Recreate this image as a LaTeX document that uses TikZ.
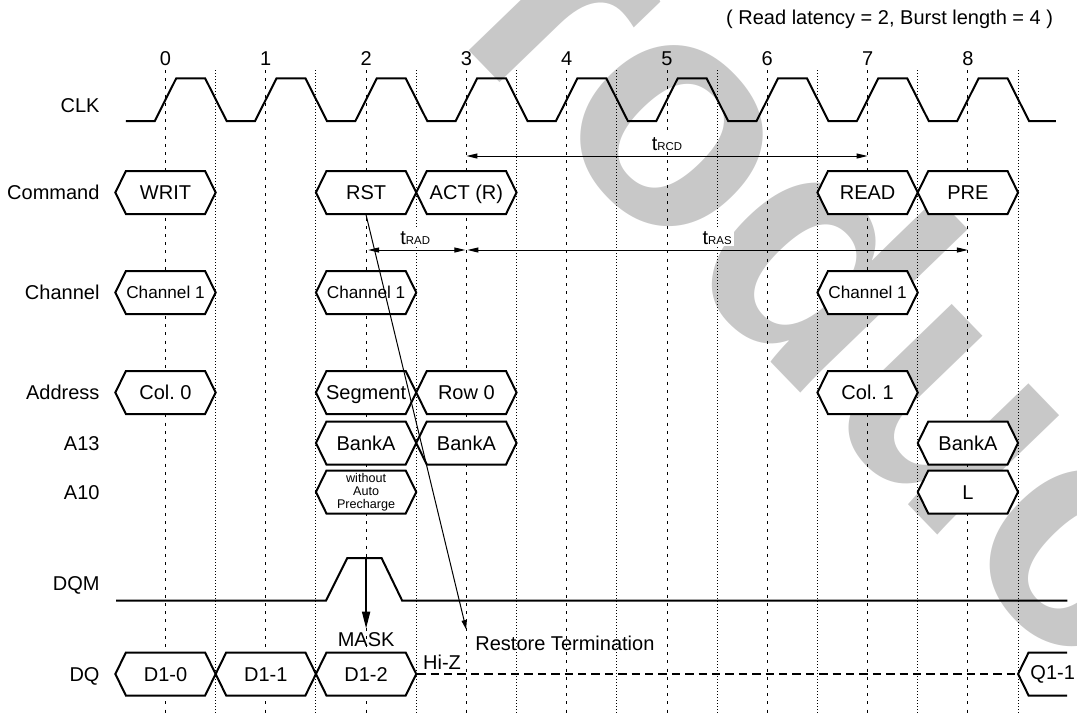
\documentclass[tikz,border=0pt]{standalone}
\usepackage{fontspec}
\setmainfont{Liberation Sans}
\usepackage{xcolor}
\usetikzlibrary{arrows.meta}
\frenchspacing

\definecolor{markgrey}{RGB}{200,200,200}

% one bus value: [node options]{name}{cycle}{y}{text}
\newcommand{\sigbox}[5][]{%
  \draw[sigline] ({#3-0.5},#4) -- ++(0.105,-21.5) -- ++(0.79,0) -- ++(0.105,21.5)
    -- ++(-0.105,21.5) -- ++(-0.79,0) -- cycle
    ({#3},#4) node[sigtext,#1] (#2) {#5};}

\begin{document}
\begin{tikzpicture}[x=50.15pt, y=-0.5pt, font=\fontsize{10}{12}\selectfont,
    wave/.style={line width=1pt},
    sigline/.style={line width=1pt, fill=white},
    sigtext/.style={minimum width=50.15pt, minimum height=21.5pt, inner sep=0pt,
                    text height=7.16pt, text depth=0pt},
    cycline/.style={line width=0.5pt, dash pattern=on 1.5pt off 2.6pt},
    halfline/.style={line width=0.5pt, dash pattern=on 0.5pt off 1pt},
    timing/.style={line width=0.5pt,
                   {Triangle[length=5.5pt,width=2.5pt]}-{Triangle[length=5.5pt,width=2.5pt]}},
    tlabel/.style={fill=white, inner sep=1pt, anchor=base},
    rowname/.style={anchor=east, inner sep=0pt, text height=7.16pt, text depth=0pt}]

    \useasboundingbox (-1.65005,0) rectangle (9.08774,714);
    \clip (-1.65005,0) rectangle (9.08774,714);

    % watermark
    \node[text=markgrey, font=\fontsize{161.5}{161.5}\selectfont\bfseries, rotate=-46,
          anchor=base west, inner sep=0pt] (mark) at (1.381,-121) {Product};

    % cycle and half-cycle guides
    \foreach \n in {0,...,8} {
      \draw[cycline] (\n,70) -- (\n,714);
      \draw[halfline] (\n+0.5,70) -- (\n+0.5,714);
      \node[font=\fontsize{10}{12}\selectfont] (cyc\n) at (\n,58.3) {\n};
    }

    % signal names
    \foreach \y/\name [count=\i] in {105/CLK,192.5/Command,292.5/Channel,392.5/Address,
                                     443/A13,492/A10,583/DQM,674/DQ}
      \node[rowname] (row\i) at (-0.654,\y) {\name};

    \node[anchor=east, inner sep=0pt] (note) at (8.853,19) {( Read latency = 2, Burst length = 4 )};

    % clock
    \draw[wave] (-0.394,121) foreach \n in {0,...,8} {
      -- (\n-0.107,121) -- (\n+0.107,78.3) -- (\n+0.395,78.3) -- (\n+0.61,121)} -- (8.878,121);

    % command
    \sigbox{writ}{0}{192.5}{WRIT}
    \sigbox{rst}{2}{192.5}{RST}
    \sigbox{act}{3}{192.5}{ACT (R)}
    \sigbox{read}{7}{192.5}{READ}
    \sigbox{pre}{8}{192.5}{PRE}

    % channel
    \sigbox[font=\fontsize{8.6}{10}\selectfont, text height=6.16pt]{chwrit}{0}{292.5}{Channel 1}
    \sigbox[font=\fontsize{8.6}{10}\selectfont, text height=6.16pt]{chrst}{2}{292.5}{Channel 1}
    \sigbox[font=\fontsize{8.6}{10}\selectfont, text height=6.16pt]{chread}{7}{292.5}{Channel 1}

    % address, A13, A10
    \sigbox{colA}{0}{392.5}{Col. 0}
    \sigbox{segm}{2}{392.5}{Segment}
    \sigbox{rowA}{3}{392.5}{Row 0}
    \sigbox{colB}{7}{392.5}{Col. 1}
    \sigbox{bankrst}{2}{443}{BankA}
    \sigbox{bankact}{3}{443}{BankA}
    \sigbox{bankpre}{8}{443}{BankA}
    \sigbox[font=\fontsize{6.3}{6.5}\selectfont, align=center, text height=, text depth=]{noap}{2}{492}{without\\Auto\\Precharge}
    \sigbox{apL}{8}{492}{L}

    % DQ
    \sigbox{dA}{0}{674}{D1-0}
    \sigbox{dB}{1}{674}{D1-1}
    \sigbox{dC}{2}{674}{D1-2}
    \draw[sigline] (8.988,652.5) -- (8.605,652.5) -- (8.5,674) -- (8.605,695.5) -- (8.988,695.5);
    \node[anchor=west, inner xsep=6pt, inner ysep=0pt] (qA) at (8.5,674) {Q1-1};
    \draw[line width=1pt, dash pattern=on 4.2pt off 2.5pt] (dC.east) -- (qA.west);
    \node (hiz) at (2.757,662) {Hi-Z};

    % DQM
    \draw[wave] (-0.4935,600.7) -- (1.6,600.7) -- (1.813,558) -- (2.154,558) -- (2.36,600.7) -- (8.991,600.7);
    \coordinate (dqmtop) at (2,558);
    \node[inner sep=2pt] (mask) at (2,640) {MASK};
    \draw[line width=1pt, -{Triangle[length=8.5pt,width=4pt]}] (dqmtop) -- (mask.north);

    % restore termination
    \node[anchor=west, inner sep=0pt] (restore) at (3.086,643) {Restore Termination};
    \coordinate (restip) at (3,630);
    \draw[line width=0.5pt, -{Triangle[length=5pt,width=2.5pt]}] (rst.south) -- (restip);

    % timing parameters
    \coordinate (rcdL) at (3,156);
    \coordinate (rcdR) at (7,156);
    \draw[timing] (rcdL) -- (rcdR);
    \node[tlabel] (trcd) at (5,150) {t\fontsize{5.7}{6}\selectfont RCD};
    \coordinate (radL) at (2.02,250);
    \coordinate (radR) at (2.99,250);
    \draw[timing] (radL) -- (radR);
    \node[tlabel] (trad) at (2.49,244) {t\fontsize{5.7}{6}\selectfont RAD};
    \coordinate (rasL) at (3.01,250);
    \coordinate (rasR) at (8,250);
    \draw[timing] (rasL) -- (rasR);
    \node[tlabel] (tras) at (5.5,244) {t\fontsize{5.7}{6}\selectfont RAS};
  \end{tikzpicture}
\end{document}
